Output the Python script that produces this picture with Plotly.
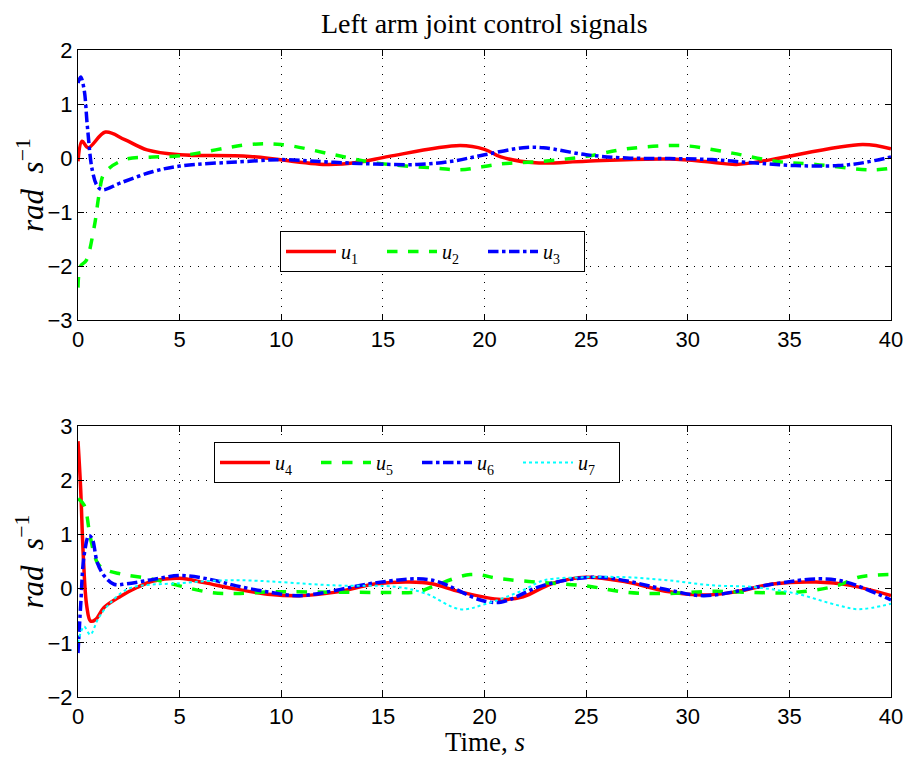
import plotly.graph_objects as go

# ---- top panel data ----
t1 = [0, 0.2, 0.5, 1.35, 2.3, 3.4, 5, 8.45, 12.2, 13.8, 15.3, 18.8, 20.0, 20.8, 22.5, 25, 29.1, 31.2, 32.4, 34.1, 38.6, 40]
u1 = [-0.06, 0.31, 0.19, 0.48, 0.34, 0.15, 0.06, 0.03, -0.12, -0.08, 0.03, 0.23, 0.16, 0.02, -0.09, -0.06, -0.02, -0.08, -0.12, -0.03, 0.25, 0.17]

t2 = [0, 0.13, 0.4, 0.8, 1.05, 1.3, 2.3, 3.7, 5, 8.45, 10, 12.6, 14.6, 17.7, 18.8, 20.8, 22.9, 25, 27, 29.1, 30.1, 32.2, 34.3, 36.3, 39, 40]
u2 = [-2.4, -2.0, -1.9, -1.27, -0.65, -0.28, -0.03, 0.02, 0.04, 0.25, 0.25, 0.06, -0.09, -0.19, -0.22, -0.11, -0.06, 0.03, 0.17, 0.23, 0.22, 0.09, -0.06, -0.12, -0.22, -0.19]

t3 = [0, 0.13, 0.3, 0.46, 0.7, 0.95, 1.2, 2.1, 3.7, 5, 8.45, 10, 12.6, 14.6, 16.7, 18.4, 20, 21.9, 22.9, 25, 27, 29.1, 31.2, 33.2, 35.3, 37.4, 38.6, 40]
u3 = [1.39, 1.5, 1.27, 0.59, -0.22, -0.52, -0.59, -0.46, -0.25, -0.15, -0.06, -0.03, -0.08, -0.11, -0.12, -0.06, 0.06, 0.19, 0.19, 0.06, 0.0, -0.01, -0.03, -0.09, -0.14, -0.14, -0.09, 0.02]

# ---- bottom panel data ----
t4 = [0, 0.13, 0.26, 0.43, 0.62, 0.87, 1.28, 2.1, 2.9, 3.7, 5, 6.2, 7.8, 9.5, 10.9, 12.6, 14.7, 16.3, 17.4, 18.8, 20.8, 21.9, 23.3, 25, 27, 29.1, 30.8, 32.2, 34.3, 36.3, 38, 40]
u4 = [2.72, 1.85, 0.61, -0.32, -0.6, -0.57, -0.35, -0.14, 0.02, 0.14, 0.19, 0.11, -0.01, -0.11, -0.13, -0.07, 0.09, 0.12, 0.09, -0.06, -0.2, -0.15, 0.09, 0.21, 0.12, -0.06, -0.12, -0.07, 0.09, 0.12, 0.06, -0.13]

t5 = [0, 0.3, 0.62, 0.95, 1.28, 2.1, 3.7, 5, 6.5, 7.8, 9.5, 10.5, 14.7, 16.7, 17.4, 19.3, 20.8, 22.9, 25, 27, 29.1, 31.2, 33.2, 35.3, 37.4, 38.4, 40]
u5 = [1.66, 1.54, 0.92, 0.48, 0.36, 0.27, 0.17, 0.05, -0.07, -0.09, -0.06, -0.06, -0.07, -0.06, 0.03, 0.26, 0.18, 0.11, 0.05, -0.07, -0.09, -0.05, -0.07, -0.07, 0.06, 0.21, 0.26]

t6 = [0, 0.13, 0.3, 0.54, 0.7, 0.95, 1.28, 1.77, 2.4, 3.7, 5, 6.5, 7.8, 9.5, 10.9, 14.7, 16.7, 17.7, 19.8, 20.8, 22.9, 25.6, 29.1, 30.8, 34.3, 36.5, 37.8, 40]
u6 = [-1.19, -0.32, 0.61, 0.98, 0.92, 0.48, 0.24, 0.08, 0.09, 0.17, 0.24, 0.17, 0.05, -0.07, -0.13, 0.11, 0.18, 0.13, -0.21, -0.25, 0.06, 0.21, -0.03, -0.13, 0.09, 0.18, 0.12, -0.21]

t7 = [0, 0.3, 0.6, 1.0, 1.5, 2.5, 5, 7, 8.45, 12.6, 15.7, 17.1, 18.8, 20, 21.9, 22.9, 25, 27, 29.1, 31.2, 33.2, 35.3, 37.4, 38.4, 40]
u7 = [-1.0, -0.7, -0.85, -0.55, -0.3, 0.0, 0.1, 0.15, 0.15, 0.06, 0.03, -0.09, -0.38, -0.29, -0.03, 0.15, 0.21, 0.21, 0.15, 0.06, 0.03, -0.09, -0.31, -0.38, -0.28]

x_ticks = [0, 5, 10, 15, 20, 25, 30, 35, 40]
top_yticks = [-3, -2, -1, 0, 1, 2]
bot_yticks = [-2, -1, 0, 1, 2, 3]

SERIF = "Liberation Serif"
SANS = "Liberation Sans"

fig = go.Figure()

def lab(n):
    return "<i>u</i><sub>%d</sub>" % n

W = 3.5
fig.add_trace(go.Scatter(x=t1, y=u1, mode="lines", line=dict(color="#FF0000", width=W, shape="spline"), name=lab(1), xaxis="x", yaxis="y", legend="legend"))
fig.add_trace(go.Scatter(x=t2, y=u2, mode="lines", line=dict(color="#00FF00", width=W, dash="dash", shape="spline"), name=lab(2), xaxis="x", yaxis="y", legend="legend"))
fig.add_trace(go.Scatter(x=t3, y=u3, mode="lines", line=dict(color="#0000FF", width=W, dash="dashdot", shape="spline"), name=lab(3), xaxis="x", yaxis="y", legend="legend"))

fig.add_trace(go.Scatter(x=t4, y=u4, mode="lines", line=dict(color="#FF0000", width=W, shape="spline"), name=lab(4), xaxis="x2", yaxis="y2", legend="legend2"))
fig.add_trace(go.Scatter(x=t5, y=u5, mode="lines", line=dict(color="#00FF00", width=W, dash="dash", shape="spline"), name=lab(5), xaxis="x2", yaxis="y2", legend="legend2"))
fig.add_trace(go.Scatter(x=t6, y=u6, mode="lines", line=dict(color="#0000FF", width=W, dash="dashdot", shape="spline"), name=lab(6), xaxis="x2", yaxis="y2", legend="legend2"))
fig.add_trace(go.Scatter(x=t7, y=u7, mode="lines", line=dict(color="#00FFFF", width=2, dash="dot", shape="spline"), name=lab(7), xaxis="x2", yaxis="y2", legend="legend2"))

axis_common = dict(
    showline=True, linecolor="black", linewidth=1, mirror="ticks",
    ticks="inside", ticklen=6, tickcolor="black",
    showgrid=True, gridcolor="black", griddash="1px,7px", gridwidth=1,
    zeroline=False, automargin=False,
    tickfont=dict(family=SANS, size=22, color="black"),
)

# the page body adds an 8px offset; figure is sized/margined to compensate
H = 647.0
TOP_LO = (697 - 320) / H
BOT_HI = (697 - 426) / H
ylab = "<i>rad</i>  <i>s</i><sup>−1</sup>"

fig.update_layout(
    width=903, height=752,
    margin=dict(l=70, r=20, t=42, b=63),
    paper_bgcolor="white", plot_bgcolor="white",
    xaxis=dict(domain=[0, 1], anchor="y", range=[0, 40], tickvals=x_ticks, **axis_common),
    yaxis=dict(domain=[TOP_LO, 1], anchor="x", range=[-3, 2], tickvals=top_yticks, **axis_common),
    xaxis2=dict(domain=[0, 1], anchor="y2", range=[0, 40], tickvals=x_ticks, **axis_common),
    yaxis2=dict(domain=[0, BOT_HI], anchor="x2", range=[-2, 3], tickvals=bot_yticks, **axis_common),
    legend=dict(orientation="h", x=(280 - 78) / 813.0, y=(697 - 231) / H, xanchor="left", yanchor="top",
                bordercolor="black", borderwidth=1, bgcolor="white",
                font=dict(family=SERIF, size=20, color="black"), entrywidth=36, entrywidthmode="pixels",
                itemwidth=50, tracegroupgap=0),
    legend2=dict(orientation="h", x=(214 - 78) / 813.0, y=(697 - 442) / H, xanchor="left", yanchor="top",
                 bordercolor="black", borderwidth=1, bgcolor="white",
                 font=dict(family=SERIF, size=20, color="black"), entrywidth=36, entrywidthmode="pixels",
                 itemwidth=50, tracegroupgap=0),
    annotations=[
        dict(text="Left arm joint control signals", xref="paper", yref="paper", x=0.5, y=(697 - 24) / H,
             xanchor="center", yanchor="middle", showarrow=False,
             font=dict(family=SERIF, size=28, color="black")),
        dict(text="Time, <i>s</i>", xref="paper", yref="paper", x=0.5, y=(697 - 742) / H,
             xanchor="center", yanchor="middle", showarrow=False,
             font=dict(family=SERIF, size=27, color="black")),
        dict(text=ylab, xref="paper", yref="paper", x=(30 - 78) / 813.0, y=(TOP_LO + 1) / 2,
             xanchor="center", yanchor="middle", showarrow=False, textangle=-90,
             font=dict(family=SERIF, size=31, color="black")),
        dict(text=ylab, xref="paper", yref="paper", x=(30 - 78) / 813.0, y=BOT_HI / 2,
             xanchor="center", yanchor="middle", showarrow=False, textangle=-90,
             font=dict(family=SERIF, size=31, color="black")),
    ],
)

fig.write_html("out.html")
